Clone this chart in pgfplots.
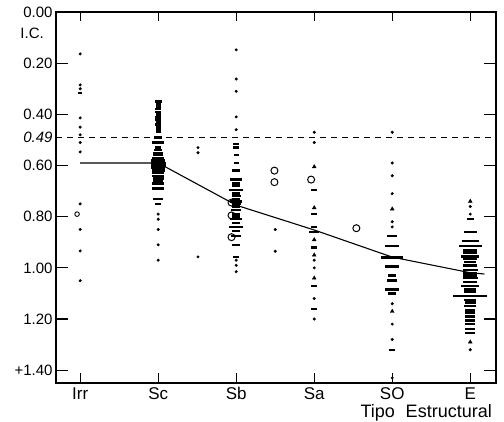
\documentclass[border=0pt]{standalone}
\usepackage{fontspec}
\setmainfont{Liberation Sans}
\usepackage{pgfplots}
\usepackage{pgfplotstable}
\pgfplotsset{compat=1.18}

% bars (x, y, half width in pt)
\pgfplotstableread{
x y w
0 0.316 2
1 0.35 3.5
1 0.36 2.5
1 0.37 2.5
1 0.38 3
1 0.39 3
1 0.40 2.5
1 0.41 3
1 0.42 3
1 0.43 2.5
1 0.44 3
1 0.45 2.5
1 0.46 2.5
1 0.47 2.5
1 0.49 4
1 0.51 6
1 0.53 3
1 0.54 4
1 0.55 5
1 0.56 5
1 0.57 6
1 0.58 7
1 0.59 7.5
1 0.60 7.5
1 0.61 7
1 0.62 6.5
1 0.63 6
1 0.64 6
1 0.65 5.5
1 0.66 5
1 0.67 6
1 0.69 6
1 0.73 5
1 0.75 3
2 0.515 3
2 0.53 3
2 0.56 2.5
2 0.59 2.5
2 0.62 4
2 0.655 6
2 0.67 4
2 0.68 4
2 0.695 7
2 0.71 4
2 0.72 4.5
2 0.73 4
2 0.74 6
2 0.75 4.5
2 0.76 4
2 0.775 5
2 0.79 4
2 0.80 4
2 0.81 6
2 0.825 4
2 0.84 7
2 0.855 4
2 0.875 5
2 0.91 4
2 0.957 3
3 0.695 3
3 0.79 3
3 0.84 3
3 0.86 5
3 0.92 3
3 1.07 3
3 1.16 3
4 0.875 5
4 0.915 7
4 0.96 11
4 0.995 7
4 1.03 4
4 1.05 5
4 1.085 7
4 1.10 4
4 1.32 3
5 0.81 3.5
5 0.86 6.5
5 0.895 8.5
5 0.915 11.5
5 0.93 7
5 0.94 7
5 0.955 9
5 0.965 7
5 0.976 6
5 0.99 7
5 1.008 7.5
5 1.02 7
5 1.03 7
5 1.04 7.5
5 1.055 7
5 1.07 9
5 1.085 6
5 1.095 6
5 1.11 17
5 1.125 6
5 1.135 5.5
5 1.15 6
5 1.165 5
5 1.175 5
5 1.19 5
5 1.205 5
5 1.22 5
5 1.24 5
5 1.255 5
}\bars

\begin{document}
\begin{tikzpicture}
\begin{axis}[
  scale only axis, width=440pt, height=371pt,
  xmin=-0.31, xmax=5.33, ymin=0, ymax=1.45, y dir=reverse,
  axis line style={line width=1.5pt},
  xtick={0,...,5}, xticklabels={Irr,Sc,Sb,Sa,SO,E},
  ytick={0,0.2,0.4,0.6,0.8,1.0,1.2,1.4},
  yticklabels={0.00,0.20,0.40,0.60,0.80,1.00,1.20,+1.40},
  extra y ticks={0.49}, extra y tick labels={\textit{0.49}},
  major tick length=0pt,
  x tick label style={font=\fontsize{17}{17}\selectfont, yshift=-1pt},
  y tick label style={font=\fontsize{15}{15}\selectfont},
  clip=false,
]
% reference level and mean curve
\addplot[line width=1pt, dash pattern=on 6pt off 5pt] coordinates {(-0.31,0.49) (5.33,0.49)};
\addplot[line width=1.1pt] coordinates {(0,0.59) (1,0.59) (2,0.755) (3,0.852) (4,0.958) (5,1.019) (5.18,1.024)};
% bars of variable width
\addplot[scatter, only marks, mark=-, line width=2.4pt,
  scatter/use mapped color={draw=black, fill=black},
  visualization depends on={\thisrow{w} \as \wbar},
  scatter/@pre marker code/.append style={/tikz/mark size=\wbar pt}]
  table[x=x, y=y] {\bars};
% dots
\addplot[only marks, mark=*, mark size=1.3pt, black] coordinates {
  (0,0.164)(0,0.285)(0,0.30)(0,0.414)(0,0.45)(0,0.48)(0,0.51)(0,0.547)
  (0,0.75)(0,0.85)(0,0.934)(0,1.05)
  (1,0.79)(1,0.81)(1,0.85)(1,0.91)(1,0.97)
  (1.51,0.53)(1.51,0.55)(1.51,0.957)
  (2,0.148)(2,0.262)(2,0.31)(2,0.41)(2,0.46)(2,0.97)(2,0.99)(2,1.015)
  (2.5,0.85)(2.5,0.935)
  (3,0.47)(3,0.51)(3,0.97)(3,1.00)(3,1.12)(3,1.20)
  (4,0.47)(4,0.59)(4,0.64)(4,0.71)(4,0.82)(4,0.84)(4,1.14)(4,1.22)(4,1.28)(4,1.43)
  (5,0.76)(5,0.79)(5,1.32)
};
% small triangles
\addplot[only marks, mark=triangle*, mark size=2.2pt, black] coordinates {
  (3,0.605)(3,0.765)(3,0.89)(3,0.95)(3,1.04)
  (4,0.77)(4,1.17)
  (5,0.74)(5,1.29)
};
% open circles
\addplot[only marks, mark=o, mark size=3.5pt, line width=1pt, black] coordinates {
  (1.94,0.745)(1.94,0.795)(1.94,0.88)
  (2.49,0.62)(2.49,0.665)
  (2.96,0.655)(3.54,0.845)
};
\addplot[only marks, mark=o, mark size=2.3pt, line width=0.9pt, black] coordinates {(-0.04,0.79)};
\coordinate (O) at (axis description cs:0,0);
\coordinate (TL) at (axis description cs:0,1);
\coordinate (TR) at (axis description cs:1,1);
\node[anchor=north east, font=\fontsize{15}{15}\selectfont, inner sep=0pt]
  at (axis description cs:0,1) [xshift=-12pt, yshift=-16pt] {I.C.};
\node[anchor=north east, font=\fontsize{18}{18}\selectfont, inner sep=0pt]
  at (axis description cs:1,0) [xshift=-4pt, yshift=-21pt] {Tipo\hspace{0.6em}Estructural};
\end{axis}
% inward tick marks on the frame: 255.86pt per unit of I.C., 78.01pt per category
\foreach \v in {0.2,0.4,0.6,0.8,1.0,1.2,1.4} {
  \draw[line width=1.2pt] ([yshift=-\v*255.86pt]TL) -- ++(12pt,0pt);
  \draw[line width=1.2pt] ([yshift=-\v*255.86pt]TR) -- ++(-12pt,0pt);
}
\foreach \k in {0,...,5} {
  \draw[line width=1.2pt] ([xshift=\k*78.01pt+24.18pt]O) -- ++(0pt,10pt);
  \draw[line width=1.2pt] ([xshift=\k*78.01pt+24.18pt]TL) -- ++(0pt,-9pt);
}
\pgfresetboundingbox
\path (O) ++(-56pt,-39pt) rectangle ++(504pt,422pt);
\end{tikzpicture}
\end{document}
